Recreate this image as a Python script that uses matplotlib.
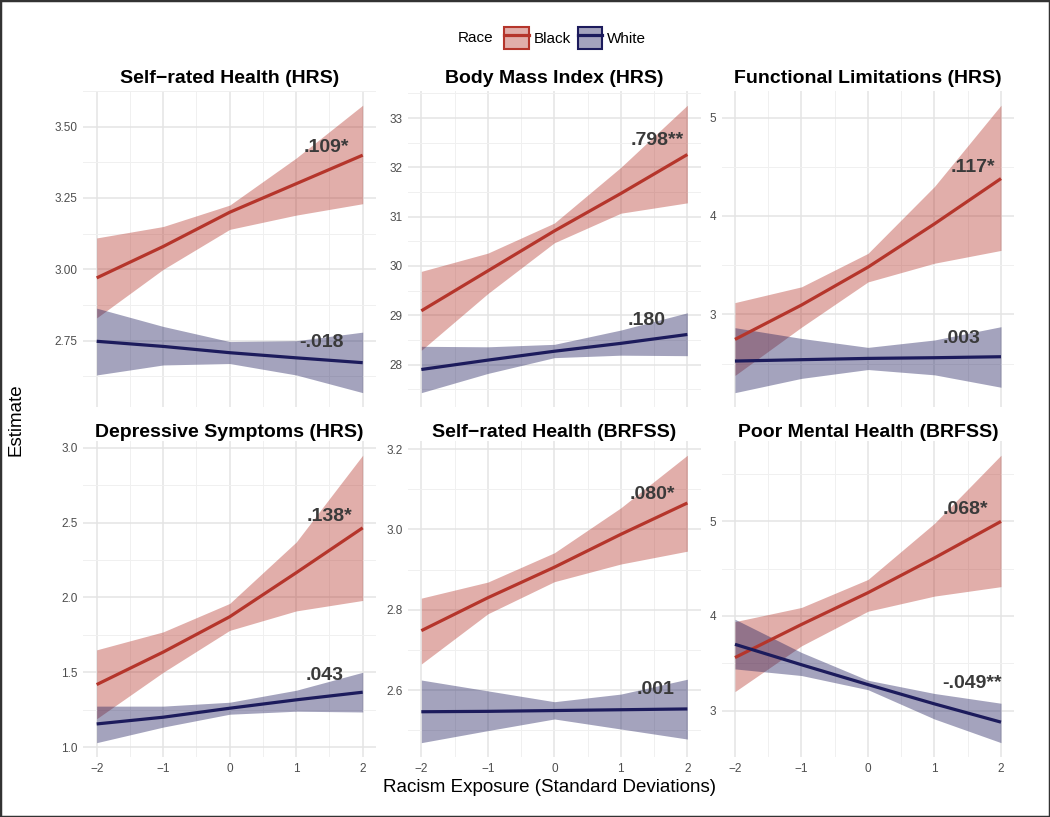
import matplotlib.pyplot as plt
from matplotlib.patches import Patch, Rectangle
from matplotlib.lines import Line2D
from matplotlib.colors import to_rgb
from matplotlib.ticker import MultipleLocator, FormatStrFormatter

plt.rcParams['font.family'] = ['Liberation Sans', 'DejaVu Sans']

# racism exposure (SD)
exposure = [-2, -1, 0, 1, 2]

# Self-rated Health (HRS)
srh_hrs_black = [2.97, 3.08, 3.20, 3.30, 3.40]
srh_hrs_black_lo = [2.83, 3.00, 3.14, 3.19, 3.23]
srh_hrs_black_hi = [3.11, 3.15, 3.225, 3.39, 3.575]
srh_hrs_white = [2.748, 2.73, 2.708, 2.69, 2.673]
srh_hrs_white_lo = [2.63, 2.665, 2.67, 2.63, 2.568]
srh_hrs_white_hi = [2.864, 2.80, 2.747, 2.75, 2.78]

# Body Mass Index (HRS)
bmi_black = [29.09, 29.90, 30.71, 31.47, 32.26]
bmi_black_lo = [28.29, 29.44, 30.47, 31.07, 31.28]
bmi_black_hi = [29.89, 30.26, 30.87, 32.0, 33.26]
bmi_white = [27.90, 28.09, 28.27, 28.43, 28.61]
bmi_white_lo = [27.43, 27.82, 28.14, 28.19, 28.18]
bmi_white_hi = [28.37, 28.36, 28.41, 28.70, 29.05]

# Functional Limitations (HRS)
fl_black = [2.746, 3.095, 3.48, 3.92, 4.38]
fl_black_lo = [2.38, 2.87, 3.33, 3.52, 3.65]
fl_black_hi = [3.12, 3.28, 3.62, 4.30, 5.125]
fl_white = [2.526, 2.54, 2.553, 2.56, 2.57]
fl_white_lo = [2.205, 2.35, 2.44, 2.386, 2.26]
fl_white_hi = [2.865, 2.756, 2.665, 2.74, 2.875]

# Depressive Symptoms (HRS)
dep_black = [1.418, 1.635, 1.871, 2.165, 2.465]
dep_black_lo = [1.19, 1.50, 1.78, 1.91, 1.98]
dep_black_hi = [1.65, 1.77, 1.96, 2.37, 2.95]
dep_white = [1.155, 1.20, 1.26, 1.316, 1.367]
dep_white_lo = [1.03, 1.134, 1.22, 1.24, 1.235]
dep_white_hi = [1.274, 1.274, 1.30, 1.38, 1.50]

# Self-rated Health (BRFSS)
srh_brfss_black = [2.748, 2.83, 2.906, 2.988, 3.066]
srh_brfss_black_lo = [2.665, 2.79, 2.87, 2.914, 2.946]
srh_brfss_black_hi = [2.829, 2.869, 2.942, 3.054, 3.185]
srh_brfss_white = [2.546, 2.547, 2.549, 2.551, 2.553]
srh_brfss_white_lo = [2.469, 2.499, 2.528, 2.503, 2.478]
srh_brfss_white_hi = [2.625, 2.598, 2.571, 2.59, 2.627]

# Poor Mental Health (BRFSS)
pmh_black = [3.56, 3.91, 4.246, 4.614, 5.0]
pmh_black_lo = [3.2, 3.684, 4.05, 4.21, 4.31]
pmh_black_hi = [3.94, 4.09, 4.386, 4.98, 5.70]
pmh_white = [3.70, 3.484, 3.274, 3.07, 2.877]
pmh_white_lo = [3.44, 3.37, 3.22, 2.91, 2.66]
pmh_white_hi = [3.965, 3.614, 3.32, 3.18, 3.077]

titles = ['Self\u2212rated Health (HRS)', 'Body Mass Index (HRS)', 'Functional Limitations (HRS)',
          'Depressive Symptoms (HRS)', 'Self\u2212rated Health (BRFSS)', 'Poor Mental Health (BRFSS)']
black_labels = ['.109*', '.798**', '.117*', '.138*', '.080*', '.068*']
white_labels = ['-.018', '.180', '.003', '.043', '.001', '-.049**']
# where the coefficient labels sit (x, y in data units)
black_label_xy = [(1.46, 3.427), (1.54, 32.55), (1.58, 4.49), (1.50, 2.54), (1.48, 3.088), (1.46, 5.13)]
white_label_xy = [(1.38, 2.743), (1.39, 28.90), (1.40, 2.756), (1.43, 1.479), (1.52, 2.602), (1.56, 3.29)]

y_major = [0.25, 1, 1, 0.5, 0.2, 1]
y_fmt = ['%.2f', '%d', '%d', '%.1f', '%.1f', '%d']

panels = [
    (srh_hrs_black, srh_hrs_black_lo, srh_hrs_black_hi, srh_hrs_white, srh_hrs_white_lo, srh_hrs_white_hi),
    (bmi_black, bmi_black_lo, bmi_black_hi, bmi_white, bmi_white_lo, bmi_white_hi),
    (fl_black, fl_black_lo, fl_black_hi, fl_white, fl_white_lo, fl_white_hi),
    (dep_black, dep_black_lo, dep_black_hi, dep_white, dep_white_lo, dep_white_hi),
    (srh_brfss_black, srh_brfss_black_lo, srh_brfss_black_hi, srh_brfss_white, srh_brfss_white_lo, srh_brfss_white_hi),
    (pmh_black, pmh_black_lo, pmh_black_hi, pmh_white, pmh_white_lo, pmh_white_hi),
]

red = '#b5352b'
blue = '#1c1b5c'
band_alpha = 0.4

fig = plt.figure(figsize=(10.5, 8.17), dpi=100)

lefts = [0.0794, 0.3886, 0.6873]
bottoms = [0.5018, 0.0734]
title_pad = [5.5, 2.5]
w, h = 0.2787, 0.387

for i, (b, b_lo, b_hi, wt, w_lo, w_hi) in enumerate(panels):
    row, col = divmod(i, 3)
    ax = fig.add_axes([lefts[col], bottoms[row], w, h])

    ax.fill_between(exposure, b_lo, b_hi, color=red, alpha=band_alpha, lw=0)
    ax.fill_between(exposure, w_lo, w_hi, color=blue, alpha=band_alpha, lw=0)
    ax.plot(exposure, b, color=red, lw=2.3, solid_capstyle='butt')
    ax.plot(exposure, wt, color=blue, lw=2.3, solid_capstyle='butt')

    ax.text(*black_label_xy[i], black_labels[i], ha='center', va='center',
            fontsize=14, fontweight='bold', color='#3a3a3a')
    ax.text(*white_label_xy[i], white_labels[i], ha='center', va='center',
            fontsize=14, fontweight='bold', color='#3a3a3a')

    lo = min(min(b_lo), min(w_lo))
    hi = max(max(b_hi), max(w_hi))
    pad = (hi - lo) * 0.05
    ax.set_ylim(lo - pad, hi + pad)
    ax.set_xlim(-2.2, 2.2)

    ax.xaxis.set_major_locator(MultipleLocator(1))
    ax.xaxis.set_minor_locator(MultipleLocator(0.5))
    ax.yaxis.set_major_locator(MultipleLocator(y_major[i]))
    ax.yaxis.set_minor_locator(MultipleLocator(y_major[i] / 2))
    ax.yaxis.set_major_formatter(FormatStrFormatter(y_fmt[i]))

    ax.grid(which='major', color='#e4e4e4', lw=1.1)
    ax.grid(which='minor', color='#f0f0f0', lw=0.7)
    ax.set_axisbelow(True)
    for s in ax.spines.values():
        s.set_visible(False)
    ax.tick_params(which='both', length=0, labelsize=8.5, labelcolor='#4d4d4d')
    ax.tick_params(axis='y', pad=4)
    ax.tick_params(axis='x', pad=4)
    if row == 0:
        ax.tick_params(axis='x', labelbottom=False)

    ax.set_title(titles[i], fontsize=14, fontweight='bold', pad=title_pad[row])

fig.text(0.523, 0.036, 'Racism Exposure (Standard Deviations)', ha='center', va='center', fontsize=13.5)
fig.text(0.015, 0.486, 'Estimate', ha='center', va='center', rotation=90, fontsize=13.5)

# legend on top
handles = []
for c in [red, blue]:
    box = Patch(facecolor=(*to_rgb(c), band_alpha), edgecolor=c, lw=1.5)
    handles.append((box, Line2D([], [], color=c, lw=2.3)))
fig.text(0.453, 0.9535, 'Race', ha='center', va='center', fontsize=11)
fig.legend(handles, ['Black', 'White'], loc='center', bbox_to_anchor=(0.548, 0.9535), ncol=2,
           frameon=False, fontsize=11, handlelength=1.6, handleheight=1.9,
           handletextpad=0.35, columnspacing=0.4)

fig.patches.append(Rectangle((0, 0), 1, 1, transform=fig.transFigure, fill=False,
                             edgecolor='#333333', lw=2.5))

fig.savefig('out.png', dpi=100)
